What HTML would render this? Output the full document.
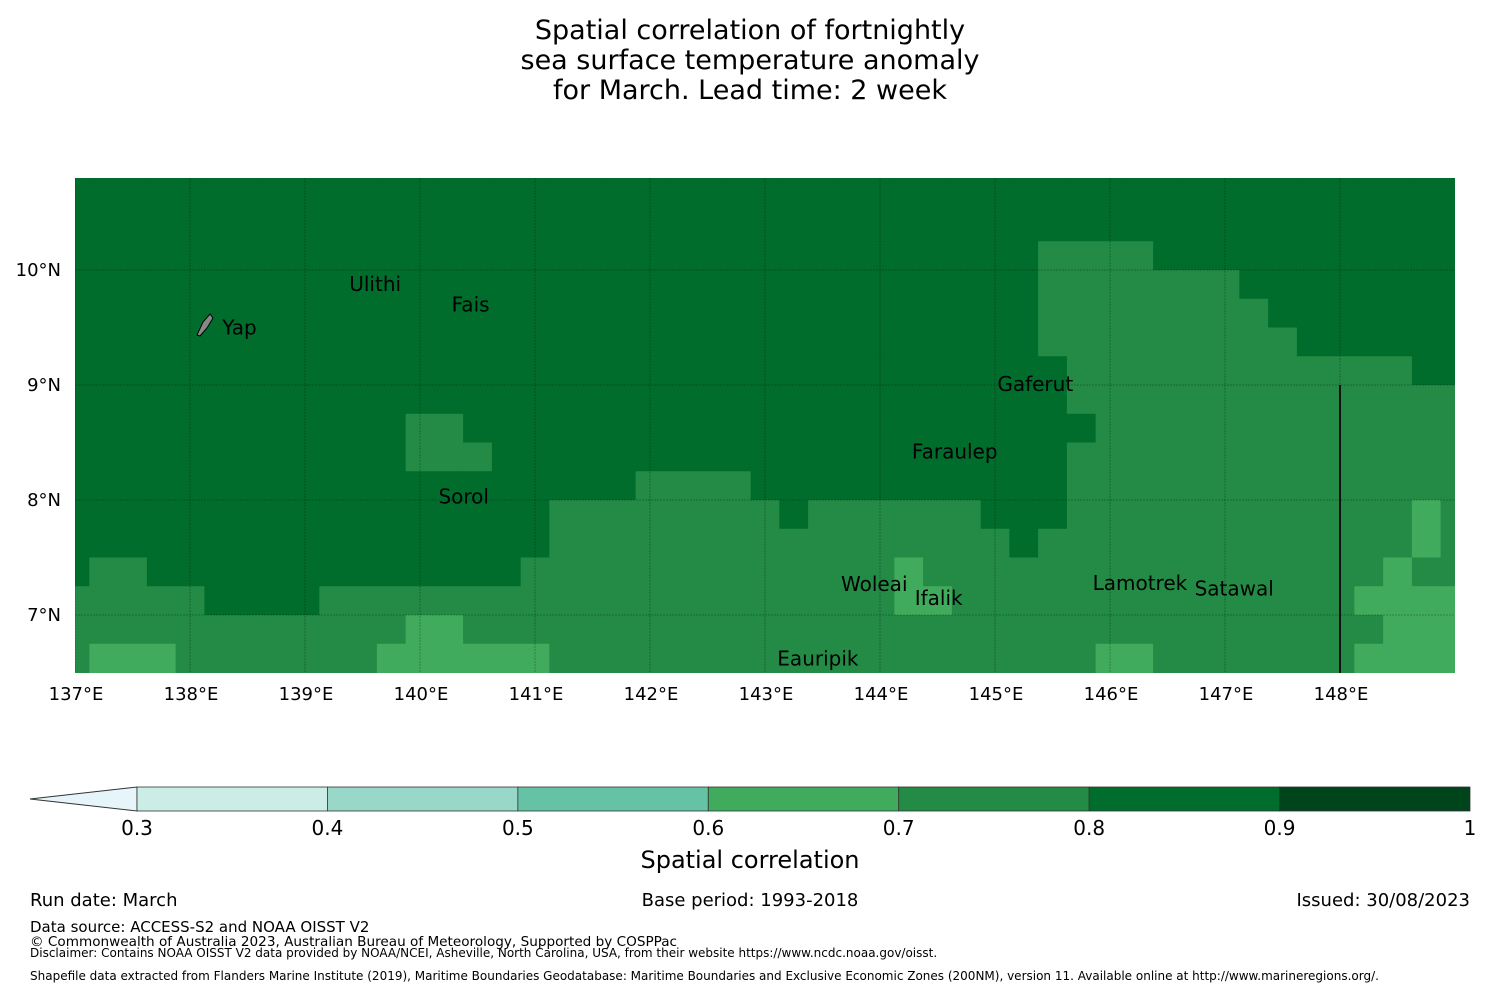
<!DOCTYPE html>
<html><head><meta charset="utf-8">
<style>
body{margin:0;background:#fff;width:1500px;height:990px;overflow:hidden;font-family:"DejaVu Sans","Liberation Sans",sans-serif;}
svg{position:absolute;left:0;top:0}
</style></head>
<body>
<svg id="chart" width="1500" height="990" xmlns="http://www.w3.org/2000/svg">
<g font-size="27" text-anchor="middle" fill="#000">
<text x="750" y="39">Spatial correlation of fortnightly</text>
<text x="750" y="69">sea surface temperature anomaly</text>
<text x="750" y="99">for March. Lead time: 2 week</text>
</g>
<defs><clipPath id="mapclip"><rect x="75" y="178" width="1380" height="495"/></clipPath></defs>
<g id="cells" clip-path="url(#mapclip)"></g>
<g id="grid" clip-path="url(#mapclip)"></g>
<g id="islands" font-size="20" fill="#000"></g>
<g id="axes" font-size="18" fill="#000"></g>
<g id="cbar"></g>
<g fill="#000">
<text x="30" y="906" font-size="18">Run date: March</text>
<text x="750" y="906" font-size="18" text-anchor="middle">Base period: 1993-2018</text>
<text x="1470" y="906" font-size="18" text-anchor="end">Issued: 30/08/2023</text>
<text x="30" y="932" font-size="15">Data source: ACCESS-S2 and NOAA OISST V2</text>
<text x="30" y="946" font-size="13.6">© Commonwealth of Australia 2023, Australian Bureau of Meteorology, Supported by COSPPac</text>
<text x="30" y="957" font-size="12">Disclaimer: Contains NOAA OISST V2 data provided by NOAA/NCEI, Asheville, North Carolina, USA, from their website https://www.ncdc.noaa.gov/oisst.</text>
<text x="30" y="980" font-size="12">Shapefile data extracted from Flanders Marine Institute (2019), Maritime Boundaries Geodatabase: Maritime Boundaries and Exclusive Economic Zones (200NM), version 11. Available online at http://www.marineregions.org/.</text>
</g>
</svg>
<script>
// Grid data: cell-centre longitudes 137.00..149.00 step 0.25, rows from lat 11 down (0.25 deg)
const lonStart = 137.0, lonStep = 0.25, nCols = 49;
const latTop = 11.0, latStep = 0.25;
// Run-length encoded class per row: D=0.85, M=0.75, L=0.65
const classValues = {D:0.85, M:0.75, L:0.65};
const rowsRLE = [
 "D49","D49","D49",
 "D34M4D11","D34M7D8","D34M8D7","D34M9D6","D35M12D2","D35M14",
 "D12M2D22M13","D12M3D20M14","D20M4D11M14",
 "D17M8D1M6D3M12L1M1","D17M16D1M13L1M1",
 "D1M2D13M13L1M16L1M2","M5D4M20L2M14L4",
 "M12L2M32L3","M1L3M7L6M19L2M7L4"
];
const lonTicks = [137,138,139,140,141,142,143,144,145,146,147,148];
const latTicks = [10,9,8,7];
const cbBounds = [0.3,0.4,0.5,0.6,0.7,0.8,0.9,1.0];
const cbColors = ["#ccece6","#99d8c9","#66c2a4","#41ab5d","#238b45","#006d2c","#00441b"];
const islandNames = ["Ulithi","Fais","Yap","Gaferut","Faraulep","Sorol","Woleai","Ifalik","Lamotrek","Satawal","Eauripik"];
const islandLon = [139.61,140.44,138.43,145.35,144.65,140.38,143.95,144.51,146.26,147.08,143.46];
const islandLat = [9.88,9.70,9.50,9.01,8.42,8.03,7.27,7.15,7.28,7.23,6.62];

const NS="http://www.w3.org/2000/svg";
const xS = lon => 75 + (lon-137)*115;
const yS = lat => 270 + (10-lat)*115;
function colorFor(v){for(let i=0;i<cbColors.length;i++){if(v>=cbBounds[i]&&v<cbBounds[i+1])return cbColors[i];}return cbColors[cbColors.length-1];}
function mk(tag,attrs){const e=document.createElementNS(NS,tag);for(const k in attrs)e.setAttribute(k,attrs[k]);return e;}

const values = rowsRLE.map(s=>{const out=[];const re=/([DML])(\d+)/g;let m;while((m=re.exec(s))){for(let i=0;i<+m[2];i++)out.push(classValues[m[1]]);}return out;});
const cells=document.getElementById('cells');
values.forEach((row,r)=>{row.forEach((v,c)=>{
  const lon=lonStart+c*lonStep, lat=latTop-r*latStep;
  const x0=xS(lon-lonStep/2), x1=xS(lon+lonStep/2), y0=yS(lat), y1=yS(lat-latStep);
  const el=mk('rect',{x:x0,y:y0,width:x1-x0+0.6,height:y1-y0+0.6,fill:colorFor(v)});
  
  
  cells.appendChild(el);
});});

const grid=document.getElementById('grid');
lonTicks.forEach(l=>{const el=mk('line',{x1:xS(l),x2:xS(l),y1:178,y2:673,stroke:"rgba(0,0,0,0.25)","stroke-width":1,"stroke-dasharray":"2,1"});
 grid.appendChild(el);});
latTicks.forEach(l=>{const el=mk('line',{x1:75,x2:1455,y1:yS(l),y2:yS(l),stroke:"rgba(0,0,0,0.25)","stroke-width":1,"stroke-dasharray":"2,1"});
 grid.appendChild(el);});
const eez=mk('line',{x1:xS(148),x2:xS(148),y1:yS(9),y2:673,stroke:"#111","stroke-width":2});
grid.appendChild(eez);

const axes=document.getElementById('axes');
lonTicks.forEach(l=>{const t=mk('text',{x:xS(l)+1,y:700,"text-anchor":"middle"});t.textContent=l+"°E";
 axes.appendChild(t);});
latTicks.forEach(l=>{const t=mk('text',{x:61,y:yS(l)+6,"text-anchor":"end"});t.textContent=l+"°N";
 axes.appendChild(t);});

const isl=document.getElementById('islands');
const yap=mk('path',{d:"M197,335 L203,322 L210,314 L213,318 L207,328 L200,336 Z",fill:"#888",stroke:"#000","stroke-width":1});
isl.appendChild(yap);
islandNames.forEach((n,i)=>{const t=mk('text',{x:xS(islandLon[i]),y:yS(islandLat[i])+7,"text-anchor":"middle"});t.textContent=n;
 isl.appendChild(t);});

const cb=document.getElementById('cbar');
const cbX=v=>137+(v-0.3)*(1470-137)/0.7;
const tri=mk('polygon',{points:"30,799 137,787 137,811",fill:"#e5f5f9",stroke:"#333","stroke-width":1});
cb.appendChild(tri);
cbColors.forEach((c,i)=>{const r=mk('rect',{x:cbX(cbBounds[i]),y:787,width:cbX(cbBounds[i+1])-cbX(cbBounds[i]),height:24,fill:c,stroke:"#333","stroke-width":0.8});
 cb.appendChild(r);});
cbBounds.forEach(v=>{const t=mk('text',{x:cbX(v),y:835,"text-anchor":"middle","font-size":20});t.textContent=(v===1?"1":v.toFixed(1));
 cb.appendChild(t);});
const cbt=mk('text',{x:750,y:868,"text-anchor":"middle","font-size":24});cbt.textContent="Spatial correlation";
cb.appendChild(cbt);
</script>
</body></html>
